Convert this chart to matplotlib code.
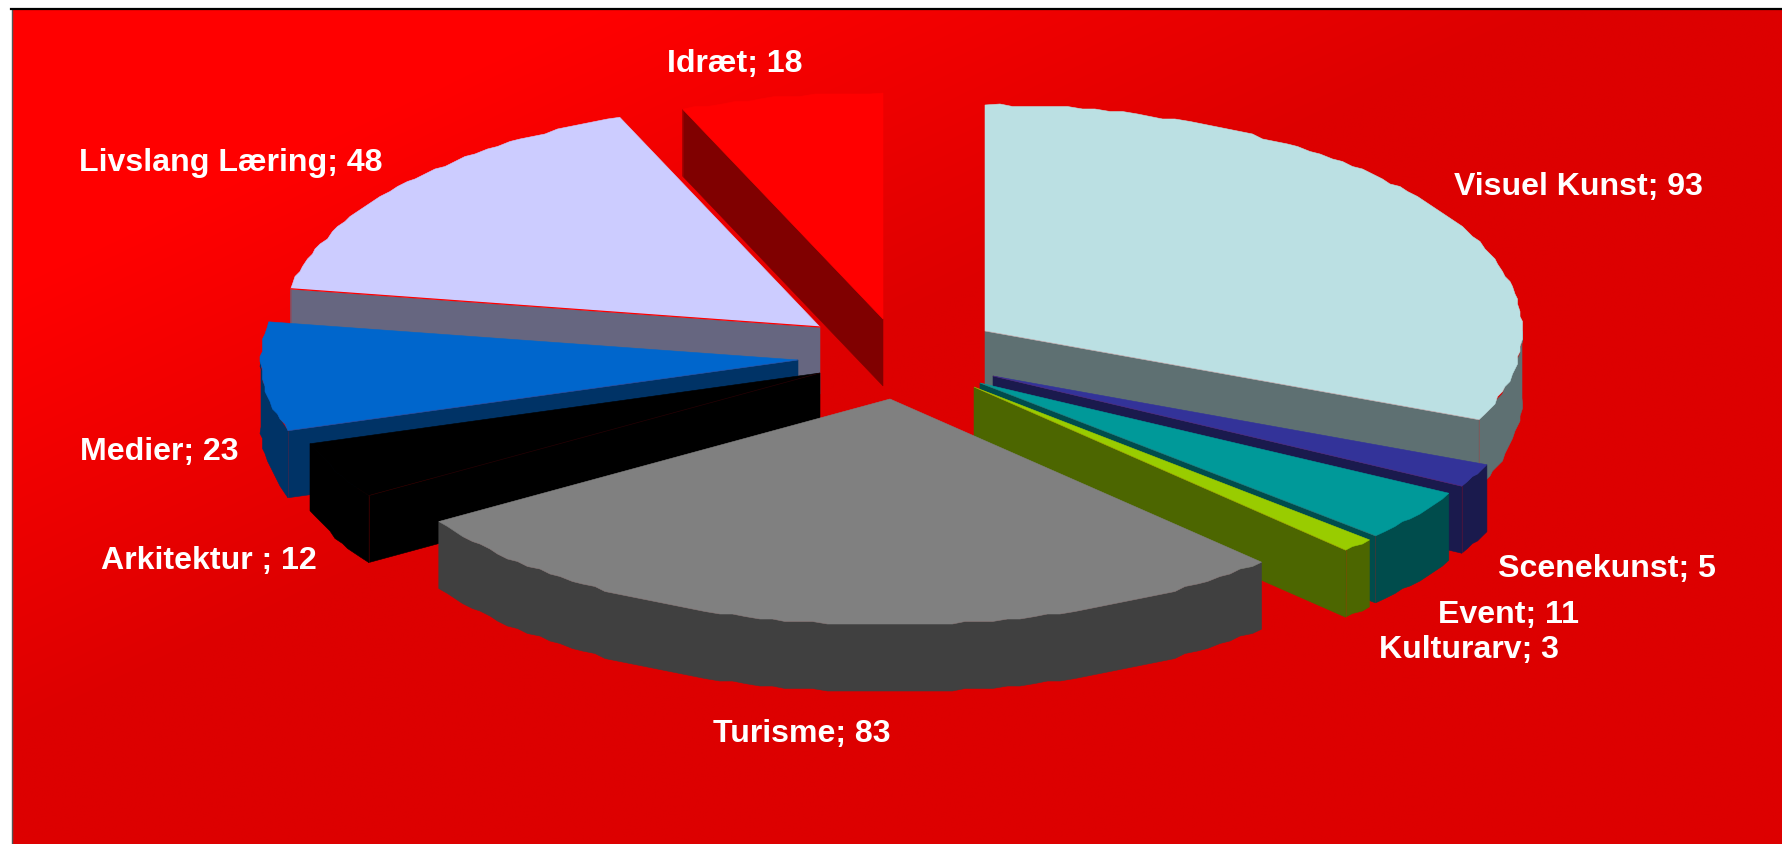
import numpy as np
import matplotlib
matplotlib.use('Agg')
import matplotlib.pyplot as plt
from matplotlib.patches import Polygon

kategori = ['Visuel Kunst', 'Scenekunst', 'Event', 'Kulturarv', 'Turisme',
            'Arkitektur ', 'Medier', 'Livslang Læring', 'Idræt']
nilai = [93, 5, 11, 3, 83, 12, 23, 48, 18]

# styles, one per slice
warna_atas = ['#BBE0E3', '#333399', '#009999', '#99CC00', '#808080',
              '#000000', '#0066CC', '#CCCCFF', '#FF0000']
warna_sisi = ['#5E7072', '#1A1A4D', '#004C4C', '#4C6600', '#404040',
              '#000000', '#003366', '#666680', '#800000']

# exploded slice tips and label centres, in pixels
pusat = [(985, 332), (993, 377), (980, 384), (974, 388), (890, 400),
         (820, 374), (798, 361), (820, 328), (883, 320)]
pos_label = [(1578, 187.5), (1607, 569), (1509, 615), (1469, 650), (802, 734),
             (209, 561), (159, 452), (231, 163), (735, 64)]

LEBAR, TINGGI = 1783, 845
A, B = 537, 226     # ellipse of the pie
TEBAL = 67          # depth of the pie
GRID = 2.5          # the rim of the pie is stepped, not smooth

fig = plt.figure(figsize=(LEBAR / 100, TINGGI / 100), dpi=100, facecolor='white')
ax = fig.add_axes([0, 0, 1, 1])
ax.axis('off')

# background gradient, runs diagonal from top left
xx, yy = np.meshgrid(np.arange(LEBAR), np.arange(TINGGI))
t = np.clip((xx + 2.11 * yy - 600) / 960, 0, 1)
bg = np.zeros((TINGGI, LEBAR, 3))
bg[..., 0] = (255 - 34 * t) / 255
ax.imshow(bg, extent=(12, LEBAR, TINGGI, 10), aspect='auto', zorder=0)
ax.set_xlim(0, LEBAR)
ax.set_ylim(TINGGI, 0)
ax.plot([12, 12], [10, TINGGI], color='#555555', lw=1.0, zorder=1)
ax.plot([11, LEBAR], [10, 10], color='black', lw=1.6, zorder=1)


def titik(c, sudut):
    # angle is clockwise from 12 o'clock
    r = np.radians(sudut)
    return c[0] + A * np.sin(r), c[1] - B * np.cos(r)


def busur(c, s, e):
    # outer arc snapped to a coarse grid, the two ends stay exact
    n = max(int((e - s) / 1.5), 1) + 1
    x, y = titik(c, np.linspace(s, e, n + 1))
    x[1:-1] = np.round(x[1:-1] / GRID) * GRID
    y[1:-1] = np.round(y[1:-1] / GRID) * GRID
    return x, y


def poly(xs, ys, warna, z):
    ax.add_patch(Polygon(np.column_stack([xs, ys]), closed=True, facecolor=warna,
                         edgecolor=warna, lw=0.4, zorder=z))


def sisi_potong(c, sudut, warna, z):
    x, y = titik(c, sudut)
    poly([c[0], x, x, c[0]], [c[1], y, y + TEBAL, c[1] + TEBAL], warna, z)
    # faint seam between cut face and rim
    ax.plot([x, x], [y, y + TEBAL], color='#FF0000', alpha=0.25, lw=0.5, zorder=z + 0.15)
    ax.plot([c[0], x], [c[1], y], color='#FF0000', alpha=0.15, lw=0.5, zorder=z + 0.25)


def gambar_slice(i, z):
    c = pusat[i]
    s, e = batas[i], batas[i + 1]
    # the cut face that looks at the viewer
    if e <= 180:
        sisi_potong(c, e, warna_sisi[i], z)
    elif s >= 180:
        sisi_potong(c, s, warna_sisi[i], z)
    # front rim
    s2, e2 = max(s, 90), min(e, 270)
    if e2 > s2:
        x, y = busur(c, s2, e2)
        poly(np.r_[x, x[::-1]], np.r_[y, y[::-1] + TEBAL], warna_sisi[i], z + 0.1)
    # top
    x, y = busur(c, s, e)
    poly(np.r_[c[0], x], np.r_[c[1], y], warna_atas[i], z + 0.2)


batas = np.r_[0, np.cumsum(nilai)] * 360 / sum(nilai)

# back to front: right side downwards, left side downwards, Turisme last
urutan = [0, 1, 2, 3, 8, 7, 6, 5, 4]
for n, i in enumerate(urutan):
    gambar_slice(i, 2 + n)

# thin red line along the front edge of Livslang Læring
x0, y0 = titik(pusat[7], batas[7])
ax.plot([x0, pusat[7][0]], [y0, pusat[7][1]], color='#FF0000', lw=0.9, zorder=7.5)

for nama, v, (x, y) in zip(kategori, nilai, pos_label):
    ax.text(x, y, f'{nama}; {v}', color='white', fontsize=23.1, fontweight='bold',
            family='Liberation Sans', ha='center', va='center', zorder=20)

fig.savefig('out.png', dpi=100, facecolor='white')
